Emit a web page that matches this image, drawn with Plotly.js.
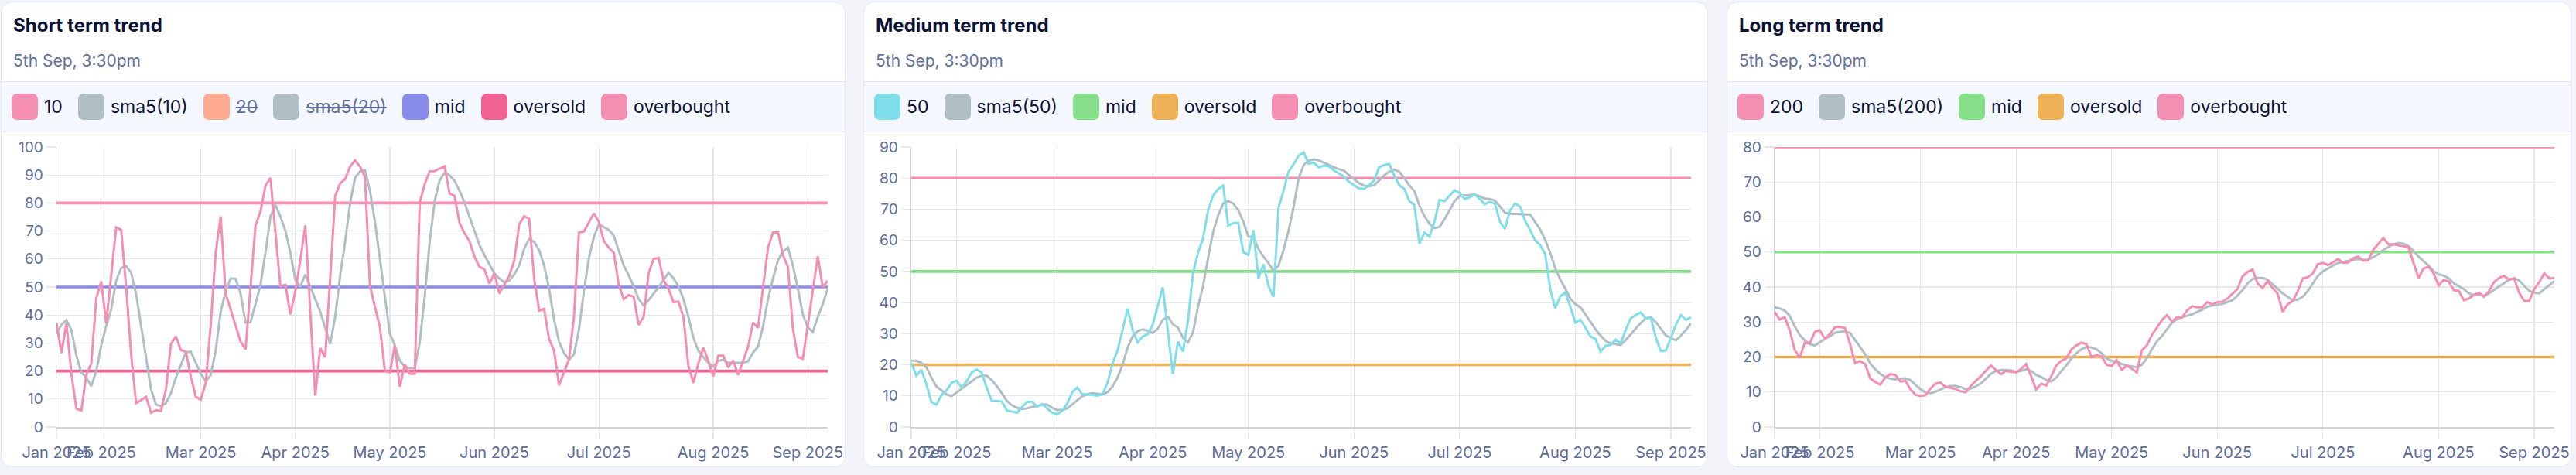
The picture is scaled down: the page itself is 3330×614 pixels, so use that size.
<!DOCTYPE html>
<html>
<head>
<meta charset="utf-8">
<script src="https://cdn.plot.ly/plotly-3.0.1.min.js"></script>
<style>
html,body{margin:0;padding:0;background:#f2f4fa;width:3330px;height:614px;overflow:hidden;font-family:Inter,"Noto Sans",sans-serif;}
.card{position:absolute;top:2px;width:1092px;height:602px;background:#fff;border:1px solid #e4e7ef;border-radius:14px;box-sizing:border-box;overflow:hidden;}
.title{position:absolute;left:15px;top:14px;font-size:24px;font-weight:650;color:#0c1335;line-height:32px;white-space:nowrap;}
.sub{position:absolute;left:15px;top:62px;font-size:21px;color:#63719e;line-height:28px;white-space:nowrap;}
.legend{position:absolute;left:0;right:0;top:102px;height:66px;background:#f4f7fe;border-top:1px solid #e3e6ef;border-bottom:1px solid #e3e6ef;display:flex;align-items:center;padding-left:13px;box-sizing:border-box;}
.item{display:flex;align-items:center;margin-right:20px;font-size:23px;color:#0c1335;white-space:nowrap;}
.sw{width:34px;height:34px;border-radius:7px;margin-right:8px;flex:none;}
.off{text-decoration:line-through;color:#5f6d99;}
.plot{position:absolute;left:0;top:168px;width:1090px;height:432px;}
</style>
</head>
<body>
<div class="card" style="left:1px"><div class="title">Short term trend</div><div class="sub">5th Sep, 3:30pm</div><div class="legend" id="leg1"></div><div class="plot" id="p1"></div></div>
<div class="card" style="left:1116px"><div class="title">Medium term trend</div><div class="sub">5th Sep, 3:30pm</div><div class="legend" id="leg2"></div><div class="plot" id="p2"></div></div>
<div class="card" style="left:2232px"><div class="title">Long term trend</div><div class="sub">5th Sep, 3:30pm</div><div class="legend" id="leg3"></div><div class="plot" id="p3"></div></div>
<script>
// ---- tick labels (first trading day of each month, as positions in the series) ----
const monthLabels = ["Jan 2025","Feb 2025","Mar 2025","Apr 2025","May 2025","Jun 2025","Jul 2025","Aug 2025","Sep 2025"];
const monthStartIdx = [0, 9, 29, 48, 67, 88, 109, 132, 151];

// ---- levels ----
const levelMid = 50, levelOversold = 20, levelOverbought = 80;

// ---- short term ----
const short10 = [37.3,26.4,37,19,6.6,5.9,18.6,22.7,46,52,37,55,71.3,70.4,50,26,8.5,9.6,10.8,5.1,6.0,5.7,13.5,29.6,32.4,27.5,26.9,18.1,10.8,9.8,
15.8,36.5,62.3,75.2,47.6,42,36.5,30.5,27.8,50,72,77,86.2,89,70,50.3,50.8,40.2,48.5,59.5,72,42,11.2,28.2,25,53,82.5,87,88.5,93,
95.2,93,89.4,50.3,43,35.6,20,19.5,29.2,14.4,22.3,19,19,80.2,86.7,91.3,91.4,92.2,93.1,83.4,82.5,72.9,69.2,66.4,60.9,57.2,56.3,51.2,54.9,47.7,
50.8,54,59.5,72.4,75.3,74.4,53,41.6,42.2,31.5,27.3,14.9,19.5,24.1,39.3,69.5,69.8,72.9,76.3,73.3,66.4,64.1,62.3,50.8,45.7,47.1,46.5,36.5,39.3,54.9,
60,60.4,52.6,49.4,44.6,44.8,39.3,21.8,15.8,22.7,28.4,23.6,18.1,25.5,25.5,21.3,23.8,18.6,23.6,28.7,37.3,35.4,49.9,64.1,69.5,69.5,61.4,57.2,35.1,25,
24.4,36.5,48.5,60.9,49.9,52.3];
const shortSma10 = [33.3,36.5,38.2,34.7,25.5,19.5,17.7,14.6,20,29.2,36.1,42,52.3,56.8,57.5,55.1,47.6,36.5,25.5,13.5,8,7.5,8.5,12.1,17.7,22.3,26.6,26.9,22.7,19,
16.3,18.6,27.3,41.1,48.5,53.1,52.9,47.6,37.3,37.4,43.9,50.8,62.3,75.2,79.3,75.2,70.1,62.3,52.6,50.1,54.5,50.3,45.7,41.3,35.1,29.6,39.3,54,66,79.8,
89,91.3,91.7,84.4,73.3,60.4,47.6,33.3,29.2,23.6,21.6,21.1,21.1,30.1,46.6,66,80.7,88,90.8,89.9,87.9,84.4,80.2,75.2,70.6,65,61.4,58.1,54.9,53.1,
51.7,52.3,54.5,57.7,63.7,67.1,66.1,63.2,57.7,49.4,38.4,30.5,26.4,24.1,25.9,34.7,48.5,60.4,67.8,72.4,71.5,70.4,68.3,63.2,57.7,54.2,50.3,45.7,43.4,45.3,
47.6,49.9,52.6,55.1,53.1,50.3,45.7,39.3,31.9,27.3,25,22.9,21.6,23.6,24.1,22.9,22.9,22.9,22.9,23.5,26.6,28.7,36.1,45.7,53.1,59.5,62.7,64.1,57.7,49.4,
40.2,35.6,33.9,39.3,43.9,49.4];

// ---- medium term ----
const medium50 = [20.6,16.5,18.4,13.8,8,7.2,10.3,11.8,14.2,14.9,12.8,14.7,17.5,18.5,17.5,12.6,8.4,8.4,8.2,5.3,5,4.6,6.4,8,8.2,6.5,7.4,6,4.6,4.1,
5.1,7.6,11.2,12.7,10.5,10.5,10.3,10.1,10.5,14.2,20.4,24.6,31.2,38,31.2,27.2,29.1,29.8,32.9,38.7,44.9,30.8,17.1,27.5,24.2,34.1,49.4,56,60.6,69.7,
74.4,76.5,77.6,64.7,65.6,65.6,56.2,55.4,63.3,47.8,52.3,45.4,41.8,70.5,75.9,82.1,84.4,87.2,88.3,84.6,85,83.4,84,83.8,82.5,81.5,80.5,78.8,77.7,76.7,
76.6,77.7,79.2,83.5,84.2,84.6,80.9,77.7,76.6,72.6,71.4,58.9,62.5,61.2,66,73,72.6,74.3,76.1,75.2,73.3,73.8,74.7,73.3,71.6,72.4,71.8,66,63.7,69.5,
71.8,70.9,66.4,63.3,60,58.5,55.6,44.5,38.2,42,43.2,38.7,33.5,34.5,32,29.1,28.3,24.2,26.1,26.4,28.1,26.9,31.2,34.9,36,36.8,34.9,35.2,28.7,24.4,
24.6,28.7,32.9,36,34.4,35.3];
const mediumSma50 = [21.3,21.3,20.6,19.2,15.9,13,11.8,10.5,9.9,11.1,12.3,13.4,14.8,15.9,16.5,16.5,15.1,13.2,10.9,8.4,7,6.2,5.8,6,6.4,6.8,7.2,7.2,6.2,5.5,
5.5,6,7.2,8.6,9.9,10.5,10.9,10.7,10.5,11.2,13,15.9,20,25.6,29.1,30.8,31.4,31,30.2,31.6,34.5,35.5,33,32,28.7,27.2,30.4,38.7,45.3,54.4,
62.7,68,71.8,72.6,71.8,69.7,66,61.2,61,57.3,54.8,52.7,50.2,51.9,56.9,63.1,70.7,80,84.2,85.6,86,85.7,84.9,84.2,83.5,82.9,82.4,81,79.6,78.4,
77.6,77.4,77.7,79.2,80.9,82.1,82.7,82.1,80,77.6,75.9,71.1,67.8,65.3,63.9,64.3,66.8,69.7,72.6,74.3,74.4,74.5,74.7,74.1,73.4,73.3,72.8,70.9,68.9,68.6,
68.5,68.3,68.3,68.3,66,63.5,60.2,56,51.1,47.4,44.5,41.3,39.5,38.5,36.2,33.7,31.4,29.4,27.7,26.9,26.7,26.4,27.9,29.7,31.6,33.5,34.9,35.3,33.7,31.4,
29.4,28.6,27.9,29.4,31.2,33.3];

// ---- long term ----
const long200 = [32.9,30.7,31.4,27.7,22,19.8,24.1,23.9,27.2,27.6,25.2,26.6,28.5,28.6,28.3,23.7,18.3,18.8,18,13.9,12.9,12.1,14.1,15.1,14.9,13,13.2,10.8,9.2,8.9,
9.1,11,12.4,12.7,11.4,11.2,10.8,10.2,9.9,11.7,13.2,14.5,16.1,17.6,16.3,15.1,16,15.8,15.6,16.6,18,14.5,10.7,12.4,11.9,14.5,17.6,18.9,19.6,22.2,
23.3,24.1,23.7,20,20.5,20.2,17.8,17.4,19.1,16.3,17.6,16.7,15.6,21.9,23.3,26.3,28.5,30.5,32,30.1,31.4,31.3,33.3,34.5,34.2,34.2,35.7,35,35.7,35.8,
36.7,38,39.4,43,44.3,45,41,39.7,41.7,39.7,38.2,32.9,35.1,36,38.8,42.5,42.8,43.9,46.5,46.9,46.3,47,48,46.9,47,48.2,48.7,47.5,47.6,50.6,
52.4,54,52.2,52.2,51.9,51.7,51.4,46.9,42.6,45.3,45.8,43.9,40.4,42.1,41.6,39.1,38.9,36.2,36.7,37.7,38.4,37.2,38.8,41.4,42.6,43.2,42.1,42.5,38.4,36,
36,39.4,41.4,43.9,42.5,42.6];
const longSma200 = [34.2,33.9,33.3,31.8,28.8,26.3,24.8,23.7,23.3,24.2,25.2,25.9,26.9,27.2,27.3,26.9,24.8,22.7,20.8,18.2,16.5,15.2,14.3,13.8,13.6,13.8,13.9,13.4,12.1,10.8,
9.9,9.7,10.1,10.8,11.4,11.7,11.7,11.4,10.8,11,11.6,12.4,13.8,15.2,16,16.3,16.3,16.2,15.8,16,16.5,16,14.9,14.3,13.4,13,14.1,16,17.6,19.6,
21.1,22.2,22.9,22.7,22.2,21.1,19.6,18.9,18.8,18,17.6,17.4,17.1,17.8,19.6,22.2,24.5,26,27.9,29.8,30.8,31.4,31.8,32.2,32.9,33.5,34.4,34.7,35,35.2,
35.7,36.2,37.5,39.1,41,42.3,42.6,42.6,42.1,40.8,39.4,38.2,37.2,36.2,36.4,37.2,38.9,41,43.2,44.5,45.3,46,46.9,47.2,47.5,47.8,48,47.8,47.8,48.5,
49.4,50.6,51.4,52.2,52.6,52.4,51.7,50.4,48.7,47.5,46.1,44.5,43.6,43.3,42.5,41.1,40.3,39.4,38.2,37.7,37.7,37.5,38.2,39.1,40.1,41.1,42.1,42.5,41.9,40.4,
38.9,38.4,38.2,39.4,40.6,41.7];

// ---- legends ----
const legend1 = [["10","#f48fb1",false],["sma5(10)","#b0bec5",false],["20","#ffab91",true],["sma5(20)","#b0bec5",true],["mid","#8a8cec",false],["oversold","#f06292",false],["overbought","#f48fb1",false]];
const legend2 = [["50","#80deea",false],["sma5(50)","#b0bec5",false],["mid","#86e08a",false],["oversold","#efb156",false],["overbought","#f48fb1",false]];
const legend3 = [["200","#f48fb1",false],["sma5(200)","#b0bec5",false],["mid","#86e08a",false],["oversold","#efb156",false],["overbought","#f48fb1",false]];

function buildLegend(id, items){
  const el = document.getElementById(id);
  items.forEach(([label,color,off])=>{
    const it = document.createElement('div'); it.className='item';
    const sw = document.createElement('div'); sw.className='sw'; sw.style.background=color;
    const tx = document.createElement('span'); tx.textContent=label; if(off) tx.className='off';
    it.appendChild(sw); it.appendChild(tx); el.appendChild(it);
  });
}
buildLegend('leg1', legend1); buildLegend('leg2', legend2); buildLegend('leg3', legend3);

const W = 1090, H = 432;
function layout(ymax, l, pw){
  return {
    width: W, height: H,
    margin: {l: l, r: W - l - pw, t: 19, b: 51, pad: 0},
    paper_bgcolor: 'rgba(0,0,0,0)', plot_bgcolor: 'rgba(0,0,0,0)',
    showlegend: false,
    font: {family: 'Inter, "Noto Sans", sans-serif', color: '#5d6b98'},
    xaxis: {range: [0, short10.length - 1], tickmode: 'array', tickvals: monthStartIdx, ticktext: monthLabels,
      tickangle: 0, showgrid: true, gridcolor: '#e7e7e7', gridwidth: 1.2, ticks: 'outside', ticklen: 14,
      tickcolor: '#e7e7e7', tickwidth: 1.2, showline: true, linecolor: '#d2d2d2', linewidth: 2,
      zeroline: false, tickfont: {size: 20, color: '#5d6b98'}, automargin: false, fixedrange: true},
    yaxis: {range: [0, ymax], tickmode: 'linear', tick0: 0, dtick: 10, showgrid: true, gridcolor: '#e7e7e7',
      gridwidth: 1.2, ticks: 'outside', ticklen: 12, tickcolor: '#e7e7e7', tickwidth: 1.2, showline: true,
      linecolor: '#d2d2d2', linewidth: 1.5, zeroline: false, tickfont: {size: 19, color: '#5d6b98'},
      automargin: false, fixedrange: true}
  };
}
function levelTrace(v, color){
  return {x: [0, short10.length - 1], y: [v, v], mode: 'lines', line: {color: color, width: 3.6}, hoverinfo: 'skip'};
}
function seriesTrace(arr, color){
  return {x: arr.map((_, i) => i), y: arr, mode: 'lines', line: {color: color, width: 3}, hoverinfo: 'skip'};
}
const cfg = {staticPlot: true, displayModeBar: false};

Plotly.newPlot('p1', [
  levelTrace(levelOverbought, '#f48fb1'), levelTrace(levelOversold, '#f06292'), levelTrace(levelMid, '#8a8cec'),
  seriesTrace(shortSma10, '#b0bec5'), seriesTrace(short10, '#f48fb1')
], layout(100, 71.3, 996.7), cfg);

Plotly.newPlot('p2', [
  levelTrace(levelOverbought, '#f48fb1'), levelTrace(levelOversold, '#efb156'), levelTrace(levelMid, '#86e08a'),
  seriesTrace(mediumSma50, '#b0bec5'), seriesTrace(medium50, '#80deea')
], layout(90, 61.3, 1007.7), cfg);

Plotly.newPlot('p3', [
  levelTrace(levelOverbought, '#f48fb1'), levelTrace(levelOversold, '#efb156'), levelTrace(levelMid, '#86e08a'),
  seriesTrace(longSma200, '#b0bec5'), seriesTrace(long200, '#f48fb1')
], layout(80, 61.3, 1008), cfg);
</script>
</body>
</html>
